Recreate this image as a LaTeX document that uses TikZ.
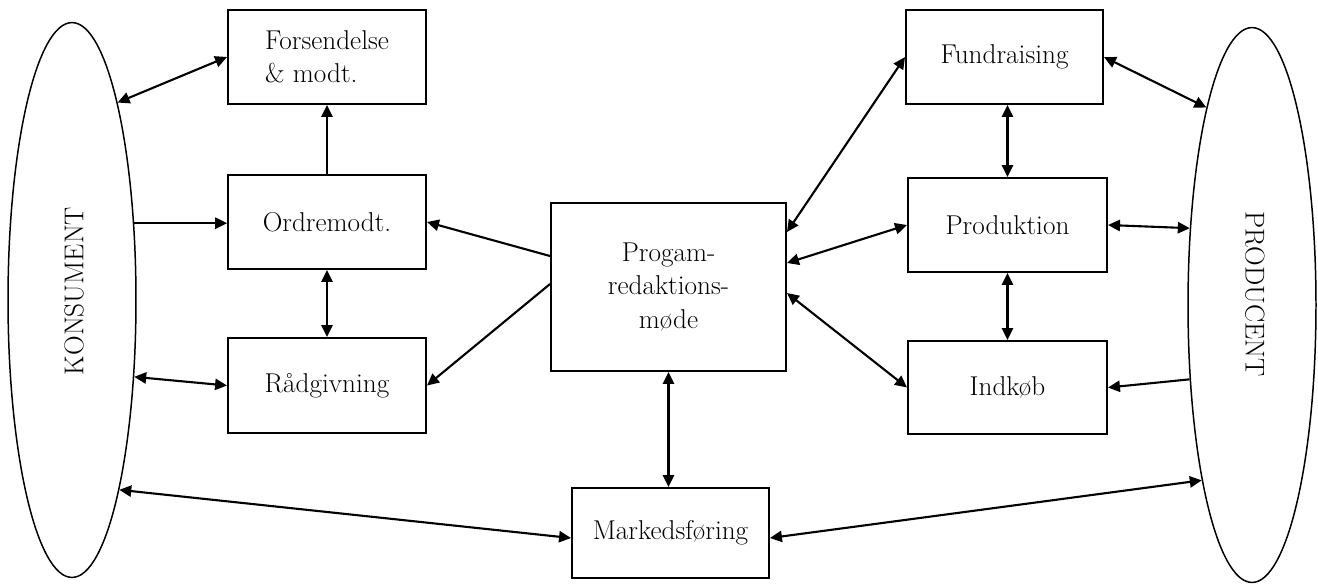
\documentclass[tikz,border=0pt]{standalone}
\usetikzlibrary{arrows.meta,shapes.geometric,calc}
\begin{document}
\begin{tikzpicture}[x=0.02cm,y=-0.02cm,
  every node/.style={font=\fontsize{15.5}{19}\selectfont, text=black},
  box/.style={draw=black, line width=1.15pt, rectangle, inner sep=2pt,
              minimum width=3.96cm, minimum height=1.88cm},
  party/.style={draw=black, line width=0.85pt, ellipse, inner sep=0pt,
                minimum width=2.56cm, minimum height=11.1cm},
  tip/.tip={Triangle[length=6.8pt,width=6.4pt]},
  link/.style={line width=1.2pt, -tip},
  both/.style={line width=1.2pt, tip-tip}
]
\useasboundingbox (0,0) rectangle (1318,583);

% the two outer parties
\node[party] (kons) at (72,300) {};
\node[rotate=90] (konstxt) at (74,291) {KONSUMENT};
\node[party] (prodc) at (1252,305) {};
\node[rotate=-90] (prodtxt) at (1255,294) {PRODUCENT};

% consumer side
\node[box, align=left] (fors) at (327,57) {Forsendelse\\\& modt.};
\node[box] (ordre) at (327,222) {Ordremodt.};
\node[box, minimum height=1.9cm] (rad) at (327,385.5) {Rådgivning};

% centre
\node[box, minimum width=4.7cm, minimum height=3.36cm, align=center] (prog) at (668.5,287)
  {Progam-\\redaktions-\\møde};
\node[box, minimum width=3.94cm, minimum height=1.8cm] (mark) at (670.5,533) {Markedsføring};

% producer side
\node[box, minimum width=3.94cm] (fund) at (1004.5,57) {Fundraising};
\node[box, minimum width=3.98cm] (produk) at (1007.5,225) {Produktion};
\node[box, minimum width=3.98cm, minimum height=1.86cm] (indk) at (1007.5,387.5) {Indkøb};

% consumer connectors
\draw[both] (kons.77.85) -- (fors.west);
\draw[link] (ordre.north) -- (fors.south);
\draw[link] (kons.51) -- (kons.51 -| ordre.west);
\draw[both] (ordre.south) -- (rad.north);
\draw[both] (kons.-51.4) -- (rad.west);
\draw[both] (kons.-76.2) -- ($(mark.west)+(0,5)$);

% from the programme meeting
\draw[link] ($(prog.west)+(0,-31)$) -- (ordre.east);
\draw[link] ($(prog.west)+(0,-3)$) -- (rad.east);
\draw[both] (prog.south) -- (prog.south |- mark.north);
\draw[both] ($(prog.east)+(0,-55)$) -- (fund.west);
\draw[both] ($(prog.east)+(0,-24)$) -- (produk.west);
\draw[both] ($(prog.east)+(0,6)$) -- (indk.west);

% producer connectors
\draw[both] ($(mark.east)+(0,5)$) -- (prodc.254.5);
\draw[both] (fund.east) -- (prodc.103);
\draw[both] (fund.south -| produk.north) -- (produk.north);
\draw[both] (produk.east) -- (prodc.129.4);
\draw[both] (produk.south) -- (indk.north);
\draw[link] (prodc.230.6) -- (indk.east);
\end{tikzpicture}
\end{document}
